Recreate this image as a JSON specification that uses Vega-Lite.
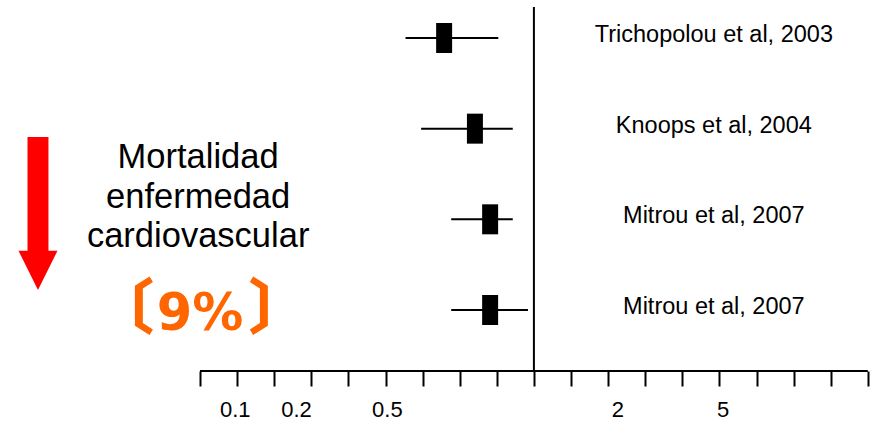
{
  "$schema": "https://vega.github.io/schema/vega-lite/v6.json",
  "width": 870,
  "height": 371,
  "autosize": "none",
  "padding": {"left": 0, "top": 0, "right": 0, "bottom": 51},
  "background": "white",
  "config": {"view": {"stroke": null}, "font": "Liberation Sans"},
  "datasets": {
    "studies": [
      {"study": "Trichopolou et al, 2003", "row": 1, "est": 6.58, "lo": 5.54, "hi": 8.04},
      {"study": "Knoops et al, 2004", "row": 2, "est": 7.41, "lo": 5.96, "hi": 8.43},
      {"study": "Mitrou et al, 2007", "row": 3, "est": 7.82, "lo": 6.77, "hi": 8.43},
      {"study": "Mitrou et al, 2007", "row": 4, "est": 7.82, "lo": 6.77, "hi": 8.84}
    ],
    "ticklabels": [
      {"label": "0.1", "pos": 0.95},
      {"label": "0.2", "pos": 2.6},
      {"label": "0.5", "pos": 5.05},
      {"label": "2", "pos": 11.26},
      {"label": "5", "pos": 14.1}
    ],
    "nullline": [{"x": 9, "ytop": 0.658, "ybot": 4.673}],
    "baseline": [{"x1": 0, "x2": 18, "y": 4.673}],
    "title": [{"text": "Mortalidad\nenfermedad\ncardiovascular", "x": -0.05, "y": 2.434}],
    "pct": [{"text": "9%", "x": 0.0, "y": 4.221}],
    "brackets": [{"text": "〔", "x": -2.05, "y": 4.011}, {"text": "〕", "x": 2.12, "y": 4.011}],
    "arrow": [{"x": -4.367, "y": 2.937}]
  },
  "layer": [
    {
      "data": {"name": "baseline"},
      "mark": {"type": "rule", "color": "black", "strokeWidth": 2},
      "encoding": {
        "x": {"field": "x1", "type": "quantitative", "scale": {"domain": [-5.391, 18.059], "nice": false, "zero": false},
              "axis": {"values": [0,1,2,3,4,5,6,7,8,9,10,11,12,13,14,15,16,17,18], "domain": false, "labels": false, "grid": false, "tickSize": 15, "tickWidth": 2, "tickColor": "black", "title": null}},
        "x2": {"field": "x2"},
        "y": {"field": "y", "type": "quantitative", "scale": {"domain": [0.581, 4.673], "reverse": true, "nice": false, "zero": false}, "axis": null}
      }
    },
    {
      "data": {"name": "nullline"},
      "mark": {"type": "rule", "color": "black", "strokeWidth": 2},
      "encoding": {
        "x": {"field": "x", "type": "quantitative"},
        "y": {"field": "ytop", "type": "quantitative"},
        "y2": {"field": "ybot"}
      }
    },
    {
      "data": {"name": "studies"},
      "mark": {"type": "rule", "color": "black", "strokeWidth": 2},
      "encoding": {
        "x": {"field": "lo", "type": "quantitative"},
        "x2": {"field": "hi"},
        "y": {"field": "row", "type": "quantitative"}
      }
    },
    {
      "data": {"name": "studies"},
      "mark": {"type": "point", "filled": true, "color": "black", "opacity": 1, "strokeWidth": 0, "size": 900,
               "shape": "M-0.533,-1L0.533,-1L0.533,1L-0.533,1Z"},
      "encoding": {
        "x": {"field": "est", "type": "quantitative"},
        "y": {"field": "row", "type": "quantitative"}
      }
    },
    {
      "data": {"name": "studies"},
      "mark": {"type": "text", "fontSize": 23.5, "align": "center", "baseline": "alphabetic", "dy": 4, "color": "black"},
      "encoding": {
        "x": {"datum": 13.85, "type": "quantitative"},
        "y": {"field": "row", "type": "quantitative"},
        "text": {"field": "study"}
      }
    },
    {
      "data": {"name": "ticklabels"},
      "mark": {"type": "text", "fontSize": 22, "align": "center", "baseline": "middle", "color": "black"},
      "encoding": {
        "x": {"field": "pos", "type": "quantitative"},
        "y": {"datum": 5.103, "type": "quantitative"},
        "text": {"field": "label"}
      }
    },
    {
      "data": {"name": "title"},
      "mark": {"type": "text", "fontSize": 34.5, "align": "center", "baseline": "alphabetic", "lineBreak": "\n", "lineHeight": 39.5, "color": "black"},
      "encoding": {
        "x": {"field": "x", "type": "quantitative"},
        "y": {"field": "y", "type": "quantitative"},
        "text": {"field": "text"}
      }
    },
    {
      "data": {"name": "pct"},
      "mark": {"type": "text", "fontSize": 51, "font": "DejaVu Sans", "fontWeight": "bold", "align": "center", "baseline": "alphabetic", "color": "#FF6600"},
      "encoding": {
        "x": {"field": "x", "type": "quantitative"},
        "y": {"field": "y", "type": "quantitative"},
        "text": {"field": "text"}
      }
    },
    {
      "data": {"name": "brackets"},
      "mark": {"type": "text", "fontSize": 60, "font": "Noto Sans CJK JP", "fontWeight": 900, "align": "center", "baseline": "middle", "color": "#FF6600"},
      "encoding": {
        "x": {"field": "x", "type": "quantitative"},
        "y": {"field": "y", "type": "quantitative"},
        "text": {"field": "text"}
      }
    },
    {
      "data": {"name": "arrow"},
      "mark": {"type": "point", "filled": true, "color": "#FF0000", "opacity": 1, "strokeWidth": 0, "size": 23409,
               "shape": "M-0.137,-1L0.137,-1L0.137,0.485L0.255,0.485L0,1L-0.255,0.485L-0.137,0.485Z"},
      "encoding": {
        "x": {"field": "x", "type": "quantitative"},
        "y": {"field": "y", "type": "quantitative"}
      }
    }
  ]
}
